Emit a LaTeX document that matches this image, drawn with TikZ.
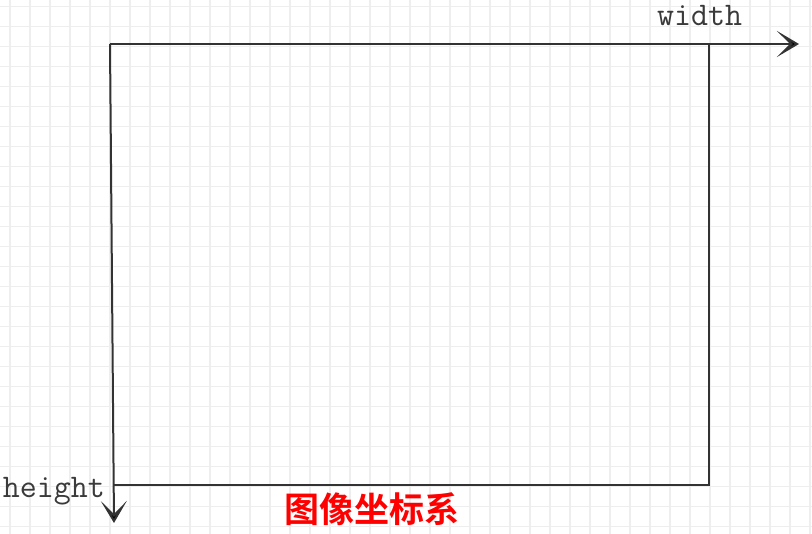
\documentclass[tikz,border=0pt]{standalone}
\usepackage{fontspec}
\usetikzlibrary{arrows.meta}
\newfontfamily\cjkfnt{Noto Sans CJK SC Bold}
\definecolor{gridc}{HTML}{EEEEEE}
\definecolor{linec}{HTML}{333333}
\definecolor{txtc}{HTML}{3A3A3A}
\tikzset{
  gridline/.style={draw=gridc, line width=1.6pt},
  axis/.style={draw=linec, line width=2pt, -{Stealth[length=22pt,width=26pt,inset=13pt,fill=black]}},
  edge/.style={draw=linec, line width=2pt},
  lbl/.style={font=\ttfamily\fontsize{33}{33}\selectfont, text=txtc, inner sep=0pt},
  title/.style={font=\cjkfnt\fontsize{35}{35}\selectfont, text=red, inner sep=0pt}
}
\begin{document}
\begin{tikzpicture}[x=1pt,y=-1pt]
\useasboundingbox (0,0) rectangle (812,534);
\fill[white] (0,0) rectangle (812,534);
% grid
\foreach \i in {0,...,40} {
  \draw[gridline] ({10+20*\i},0) -- ({10+20*\i},534);
}
\foreach \j in {0,...,26} {
  \draw[gridline] (0,{6.7+20*\j}) -- (812,{6.7+20*\j});
}
% coordinates
\coordinate (o) at (110,44);
\coordinate (wend) at (799,44);
\coordinate (tr) at (709,44);
\coordinate (br) at (709,485);
\coordinate (bl) at (113,485);
\coordinate (hend) at (114,523);
% rectangle edges
\draw[edge] (tr) -- (br) -- (bl);
\draw[axis] (o) -- (wend);
\draw[axis] (o) -- (hend);
% labels
\node[lbl, anchor=base west] (wl) at (657,26) {width};
\node[lbl, anchor=base east] (hl) at (105,498) {height};
\node[title] (tt) at (372,509) {图像坐标系};
\end{tikzpicture}
\end{document}
